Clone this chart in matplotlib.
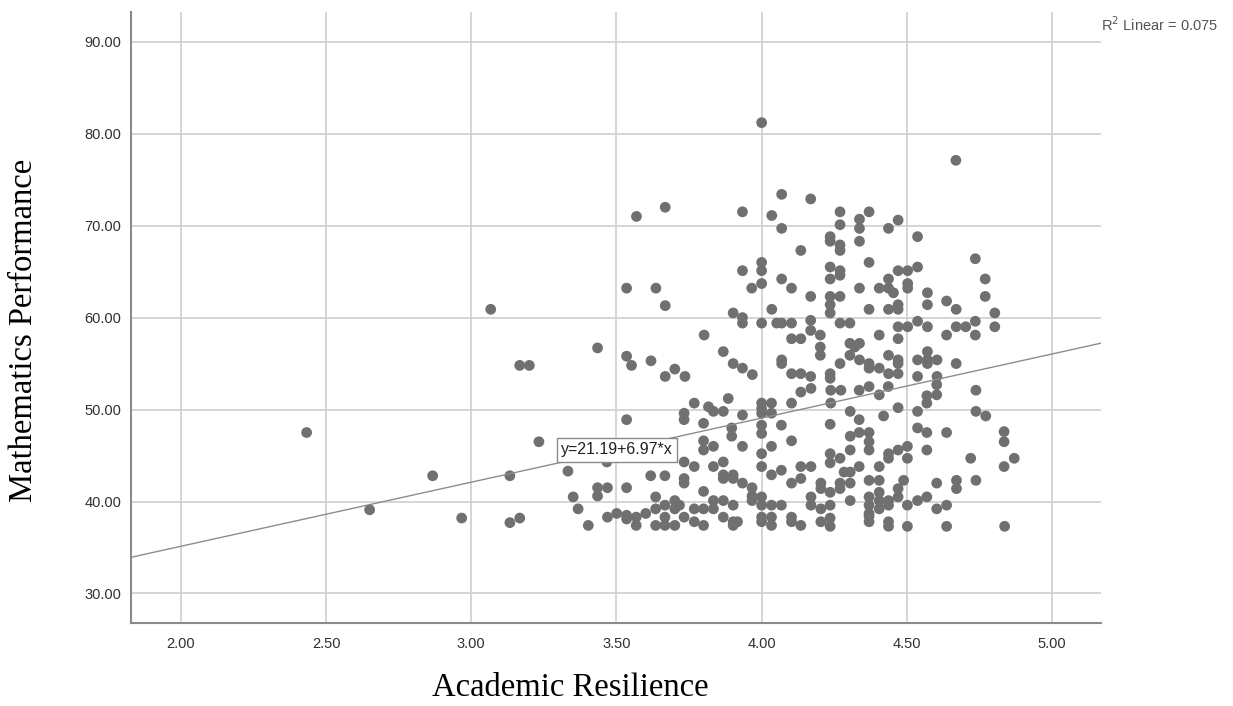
import numpy as np
import matplotlib.pyplot as plt

# Academic Resilience (x) vs Mathematics Performance (y)
resilience = [
    3.067, 3.167, 3.2, 2.433, 3.233, 2.867, 3.133, 3.333, 2.65, 2.967, 3.133, 3.167,
    3.351, 3.368, 3.403, 3.435, 3.435, 3.469, 3.467, 3.469, 3.501, 3.535, 3.535, 3.535,
    3.535, 3.568, 3.568, 3.601, 3.618, 3.635, 3.635, 3.635, 3.667, 3.667, 3.667, 3.667,
    3.701, 3.701, 3.701, 3.717, 3.733, 3.733, 3.733, 3.733, 3.733, 3.733, 3.768, 3.768,
    3.768, 3.768, 3.8, 3.8, 3.8, 3.8, 3.8, 3.8, 3.817, 3.834, 3.834, 3.834, 3.834, 3.834,
    3.868, 3.868, 3.868, 3.868, 3.868, 3.868, 3.885, 3.902, 3.902, 3.902, 3.902, 3.902,
    3.917, 3.897, 3.897, 3.934, 3.934, 3.934, 3.967, 3.967, 3.967, 4.0, 4.0, 4.0, 4.0,
    4.0, 4.0, 4.0, 4.0, 4.0, 4.0, 4.0, 4.034, 4.034, 4.034, 4.034, 4.034, 4.034, 4.034,
    4.068, 4.068, 4.068, 4.103, 4.103, 4.103, 4.103, 4.103, 4.135, 4.17,
    4.135, 4.135, 4.17, 4.135, 4.17, 4.17,
    3.569, 3.668, 3.535, 3.636, 3.668, 3.435, 3.535, 3.552, 3.619, 3.668, 3.701, 3.736,
    3.802,
    4.0, 4.669, 4.069, 4.169, 3.934, 4.035, 4.27, 4.37, 4.069, 4.27, 4.337, 4.337, 4.437,
    4.47, 4.537, 4.236, 4.236, 4.27, 4.27, 4.337, 4.135, 4.736, 4.37, 4.0, 4.0, 3.934,
    4.0, 3.966, 4.069, 4.103, 4.236, 4.236, 4.27, 4.27, 4.47, 4.503, 4.537, 4.437, 4.437,
    4.454, 4.503, 4.503, 4.405, 4.337, 4.77, 4.77, 4.571, 4.571, 4.637, 4.67, 4.803,
    4.169, 4.236, 4.236, 4.236, 4.27, 4.37, 4.437, 4.47, 4.47, 4.035, 3.902, 3.934, 3.934,
    4.0, 4.052, 4.069, 4.103, 4.169, 4.169, 4.202, 4.27, 4.304, 4.103, 4.135, 4.202,
    4.202, 4.405, 4.47, 4.47, 4.503, 4.537, 4.571, 4.637, 4.67, 4.703, 4.736, 4.736,
    4.803, 3.868, 3.902, 3.934, 3.968, 4.069, 4.069, 4.103, 4.135, 4.169, 4.236, 4.236,
    4.27, 4.304, 4.304, 4.337, 4.321, 4.337, 4.37, 4.37, 4.405, 4.437, 4.437, 4.47, 4.47,
    4.47, 4.537, 4.537, 4.571, 4.571, 4.571, 4.604, 4.604, 4.67,
    4.238, 4.273, 4.238, 4.336, 4.37, 4.405, 4.436, 4.47, 4.537, 4.569, 4.569, 4.603,
    4.603, 4.738, 4.738, 4.772, 4.305, 4.336, 4.236, 4.42, 4.537, 4.569, 4.637, 4.835,
    4.835, 4.336, 4.37, 4.37, 4.37, 4.305, 4.305, 4.236, 4.236, 4.27, 4.437, 4.437, 4.47,
    4.502, 4.502, 4.569, 4.72, 4.87, 4.835, 4.284, 4.305, 4.336, 4.405, 4.204, 4.204,
    4.236, 4.27, 4.27, 4.305, 4.37, 4.405, 4.47, 4.489, 4.603, 4.671, 4.671, 4.738, 4.204,
    4.236, 4.305, 4.37, 4.37, 4.37, 4.405, 4.405, 4.405, 4.437, 4.437, 4.47, 4.502, 4.537,
    4.569, 4.603, 4.637, 4.204, 4.236, 4.236, 4.37, 4.37, 4.437, 4.437, 4.502, 4.637,
    4.837,
]
math_perf = [
    60.9, 54.8, 54.8, 47.5, 46.5, 42.8, 42.8, 43.3, 39.1, 38.2, 37.7, 38.2,
    40.5, 39.2, 37.4, 41.5, 40.6, 41.5, 44.3, 38.3, 38.7, 48.9, 41.5, 38.5,
    38.1, 38.3, 37.4, 38.7, 42.8, 40.5, 39.2, 37.4, 42.8, 39.6, 38.3, 37.4,
    40.1, 39.2, 37.4, 39.6, 49.6, 48.9, 44.3, 42.5, 42.0, 38.3, 50.7, 43.8,
    39.2, 37.8, 48.5, 46.6, 45.6, 41.1, 39.2, 37.4, 50.3, 49.8, 46.0, 43.8, 40.1, 39.2,
    49.8, 44.3, 42.9, 42.5, 40.1, 38.3, 51.2, 42.9, 42.5, 39.6, 37.8, 37.4,
    37.8, 48.0, 47.1, 49.4, 46.0, 42.0, 41.5, 40.6, 40.1, 50.7, 50.1, 49.6, 48.3,
    47.4, 45.2, 43.8, 40.5, 39.6, 38.3, 37.8, 50.7, 49.6, 46.0, 42.9, 39.6, 38.3, 37.4,
    48.3, 43.4, 39.6, 50.7, 46.6, 42.0, 38.3, 37.8, 51.9, 52.3,
    37.4, 43.8, 43.8, 42.5, 40.5, 39.6,
    71.0, 72.0, 63.2, 63.2, 61.3, 56.7, 55.8, 54.8, 55.3, 53.6, 54.4, 53.6,
    58.1,
    81.2, 77.1, 73.4, 72.9, 71.5, 71.1, 71.5, 71.5, 69.7, 70.1, 70.7, 69.7, 69.7,
    70.6, 68.8, 68.8, 68.3, 67.9, 67.3, 68.3, 67.3, 66.4, 66.0, 66.0, 65.1, 65.1,
    63.7, 63.2, 64.2, 63.2, 65.5, 64.2, 65.1, 64.6, 65.1, 65.1, 65.5, 64.2, 63.2,
    62.7, 63.7, 63.2, 63.2, 63.2, 64.2, 62.3, 62.7, 61.4, 61.8, 60.9, 60.5,
    62.3, 62.3, 61.4, 60.5, 62.3, 60.9, 60.9, 61.4, 60.9, 60.9, 60.5, 60.0, 59.4,
    59.4, 59.4, 59.4, 59.4, 59.7, 58.6, 58.1, 59.4, 59.4, 57.7, 57.7, 56.8,
    55.9, 58.1, 59.0, 57.7, 59.0, 59.6, 59.0, 58.1, 59.0, 59.0, 59.6, 58.1,
    59.0, 56.3, 55.0, 54.5, 53.8, 55.4, 55.0, 53.9, 53.9, 53.6, 53.9, 53.4,
    55.0, 57.2, 55.9, 57.2, 56.8, 55.4, 55.0, 54.5, 54.5, 55.9, 53.9, 55.4, 55.0,
    53.9, 55.4, 53.6, 56.3, 55.4, 55.0, 55.4, 53.6, 55.0,
    52.1, 52.1, 50.7, 52.1, 52.5, 51.6, 52.5, 50.2, 49.8, 51.5, 50.7, 52.7,
    51.6, 52.1, 49.8, 49.3, 49.8, 48.9, 48.4, 49.3, 48.0, 47.5, 47.5, 47.6,
    46.5, 47.5, 47.5, 46.5, 45.6, 47.1, 45.6, 45.2, 44.2, 44.7, 45.2, 44.7, 45.6,
    46.0, 44.7, 45.6, 44.7, 44.7, 43.8, 43.2, 43.2, 43.8, 43.8, 42.0, 41.4,
    41.0, 42.0, 41.4, 42.0, 42.3, 42.3, 41.4, 42.3, 42.0, 42.3, 41.4, 42.3, 39.2,
    39.6, 40.1, 40.5, 39.6, 38.7, 41.0, 40.1, 39.2, 40.1, 39.6, 40.5, 39.6, 40.1,
    40.5, 39.2, 39.6, 37.8, 38.2, 37.3, 38.4, 37.8, 37.8, 37.3, 37.3, 37.3,
    37.3,
]

# fit shown on the chart: y = 21.19 + 6.97*x, R2 = 0.075
intercept = 21.19
slope = 6.97
r2 = 0.075

x_ticks = [2.0, 2.5, 3.0, 3.5, 4.0, 4.5, 5.0]
y_ticks = [30, 40, 50, 60, 70, 80, 90]

fig = plt.figure(figsize=(12.33, 7.06), dpi=100)
ax = fig.add_axes([0.1062, 0.1172, 0.7868, 0.8662])

xlim = (1.828, 5.169)
ylim = (26.76, 93.26)
ax.set_xlim(xlim)
ax.set_ylim(ylim)

ax.set_xticks(x_ticks)
ax.set_yticks(y_ticks)
ax.set_xticklabels(['%.2f' % v for v in x_ticks])
ax.set_yticklabels(['%.2f' % v for v in y_ticks])
ax.tick_params(length=0, labelsize=10.5, labelcolor='#303030')
ax.tick_params(axis='x', pad=10)
ax.tick_params(axis='y', pad=7)
for lab in ax.get_xticklabels() + ax.get_yticklabels():
    lab.set_fontfamily('Liberation Sans')

ax.grid(True, color='#d2d2d2', linewidth=1.3)
ax.set_axisbelow(True)
for side in ['top', 'right']:
    ax.spines[side].set_visible(False)
for side in ['left', 'bottom']:
    ax.spines[side].set_color('#8a8a8a')
    ax.spines[side].set_linewidth(1.5)

ax.scatter(resilience, math_perf, s=60, color='#707070', edgecolors='none', zorder=3)

xs = np.array(xlim)
ax.plot(xs, intercept + slope * xs, color='#8c8c8c', linewidth=1.0, zorder=4)

ax.text(3.502, 45.63, 'y=%.2f+%.2f*x' % (intercept, slope), ha='center', va='center',
        fontsize=11.5, family='Liberation Sans', color='#202020', zorder=5,
        bbox=dict(boxstyle='square,pad=0.28', facecolor='white', edgecolor='#8a8a8a', linewidth=1))

fig.text(1101 / 1233, 1 - 25 / 706, 'R$^2$ Linear = %.3f' % r2, ha='left', va='center',
         fontsize=10.5, family='Liberation Sans', color='#555555')

fig.text(570 / 1233, 1 - 688 / 706, 'Academic Resilience', ha='center', va='center',
         fontsize=23.5, family='Liberation Serif')
fig.text(24 / 1233, 1 - 330 / 706, 'Mathematics Performance', ha='center', va='center',
         rotation=90, fontsize=23.5, family='Liberation Serif')

fig.savefig('out.png', dpi=100)
